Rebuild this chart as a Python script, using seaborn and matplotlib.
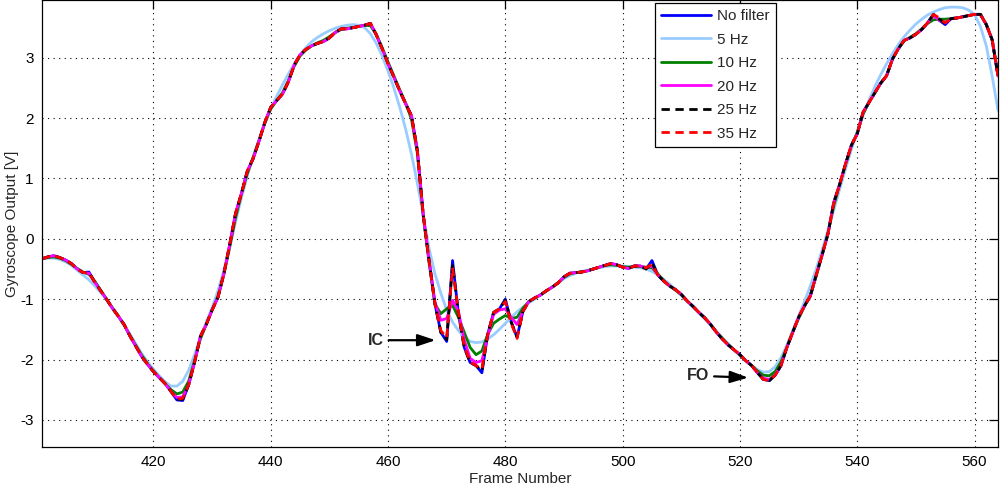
import matplotlib
matplotlib.use('Agg')
import matplotlib.pyplot as plt
import pandas as pd
import seaborn as sns

# frame numbers 401..564
frames = list(range(401, 565))

# valores, um por frame
no_filter = [
    -0.33, -0.30, -0.28, -0.31, -0.35, -0.41, -0.50, -0.56, -0.55, -0.72,
    -0.86, -1.00, -1.15, -1.28, -1.42, -1.61, -1.78, -1.95, -2.08, -2.20,
    -2.30, -2.40, -2.53, -2.67, -2.68, -2.42, -2.05, -1.62, -1.42, -1.18,
    -0.97, -0.58, -0.10, 0.42, 0.75, 1.12, 1.33, 1.62, 1.93, 2.18,
    2.29, 2.40, 2.60, 2.88, 3.05, 3.14, 3.20, 3.24, 3.27, 3.33,
    3.42, 3.48, 3.48, 3.50, 3.52, 3.54, 3.57, 3.38, 3.15, 2.90,
    2.68, 2.45, 2.24, 2.04, 1.46, 0.40, -0.36, -1.08, -1.55, -1.70,
    -0.36, -1.24, -1.80, -2.05, -2.10, -2.22, -1.58, -1.22, -1.16, -1.00,
    -1.38, -1.63, -1.20, -1.04, -0.98, -0.93, -0.86, -0.80, -0.73, -0.63,
    -0.57, -0.56, -0.55, -0.53, -0.50, -0.47, -0.44, -0.41, -0.43, -0.47,
    -0.49, -0.45, -0.45, -0.50, -0.36, -0.60, -0.70, -0.78, -0.84, -0.92,
    -1.03, -1.12, -1.22, -1.31, -1.42, -1.55, -1.66, -1.76, -1.84, -1.92,
    -2.02, -2.10, -2.22, -2.33, -2.35, -2.26, -2.10, -1.80, -1.55, -1.30,
    -1.11, -0.95, -0.60, -0.27, 0.08, 0.60, 0.90, 1.24, 1.55, 1.74,
    2.10, 2.26, 2.42, 2.58, 2.70, 2.98, 3.15, 3.29, 3.33, 3.39,
    3.47, 3.58, 3.72, 3.62, 3.55, 3.65, 3.66, 3.68, 3.70, 3.72,
    3.72, 3.55, 3.30, 2.70,
]

hz5 = [
    -0.33, -0.32, -0.32, -0.34, -0.38, -0.44, -0.52, -0.60, -0.68, -0.78,
    -0.89, -1.01, -1.14, -1.28, -1.42, -1.58, -1.74, -1.90, -2.04, -2.16,
    -2.27, -2.37, -2.44, -2.44, -2.36, -2.18, -1.92, -1.64, -1.38, -1.14,
    -0.86, -0.52, -0.14, 0.28, 0.68, 1.04, 1.36, 1.65, 1.92, 2.16,
    2.36, 2.55, 2.73, 2.90, 3.05, 3.17, 3.27, 3.34, 3.40, 3.45,
    3.49, 3.52, 3.54, 3.55, 3.54, 3.50, 3.40, 3.24, 3.03, 2.78,
    2.50, 2.18, 1.82, 1.40, 0.92, 0.40, -0.16, -0.58, -0.90, -1.18,
    -1.38, -1.52, -1.63, -1.70, -1.72, -1.71, -1.66, -1.59, -1.50, -1.40,
    -1.30, -1.21, -1.13, -1.06, -1.00, -0.93, -0.87, -0.80, -0.73, -0.66,
    -0.61, -0.57, -0.54, -0.52, -0.50, -0.48, -0.46, -0.45, -0.45, -0.45,
    -0.46, -0.47, -0.48, -0.50, -0.54, -0.60, -0.67, -0.75, -0.84, -0.93,
    -1.03, -1.13, -1.23, -1.33, -1.43, -1.54, -1.64, -1.74, -1.84, -1.93,
    -2.02, -2.10, -2.17, -2.21, -2.20, -2.12, -1.97, -1.76, -1.52, -1.28,
    -1.04, -0.78, -0.50, -0.19, 0.14, 0.48, 0.82, 1.16, 1.48, 1.78,
    2.05, 2.30, 2.52, 2.72, 2.90, 3.07, 3.22, 3.35, 3.46, 3.56,
    3.64, 3.71, 3.76, 3.80, 3.83, 3.84, 3.84, 3.83, 3.79, 3.72,
    3.52, 3.20, 2.70, 2.13,
]

hz10 = [
    -0.33, -0.31, -0.30, -0.32, -0.36, -0.42, -0.49, -0.55, -0.59, -0.70,
    -0.85, -1.00, -1.14, -1.28, -1.43, -1.60, -1.77, -1.93, -2.07, -2.19,
    -2.30, -2.40, -2.50, -2.57, -2.54, -2.36, -2.02, -1.66, -1.42, -1.18,
    -0.95, -0.60, -0.14, 0.35, 0.74, 1.08, 1.35, 1.63, 1.92, 2.15,
    2.29, 2.42, 2.62, 2.86, 3.03, 3.13, 3.20, 3.25, 3.29, 3.35,
    3.42, 3.47, 3.49, 3.50, 3.52, 3.54, 3.53, 3.39, 3.17, 2.93,
    2.70, 2.47, 2.25, 1.98, 1.42, 0.38, -0.40, -1.08, -1.24, -1.16,
    -1.10, -1.30, -1.55, -1.80, -1.92, -1.86, -1.58, -1.40, -1.33, -1.27,
    -1.32, -1.30, -1.15, -1.04, -0.98, -0.93, -0.86, -0.80, -0.73, -0.64,
    -0.58, -0.56, -0.55, -0.53, -0.50, -0.47, -0.44, -0.43, -0.44, -0.46,
    -0.47, -0.46, -0.46, -0.47, -0.48, -0.58, -0.69, -0.78, -0.85, -0.93,
    -1.03, -1.12, -1.22, -1.31, -1.42, -1.54, -1.65, -1.75, -1.84, -1.93,
    -2.02, -2.10, -2.19, -2.26, -2.27, -2.20, -2.04, -1.80, -1.54, -1.32,
    -1.12, -0.93, -0.62, -0.27, 0.09, 0.55, 0.90, 1.23, 1.54, 1.76,
    2.07, 2.26, 2.42, 2.58, 2.71, 2.97, 3.15, 3.28, 3.34, 3.40,
    3.48, 3.57, 3.63, 3.64, 3.64, 3.65, 3.66, 3.68, 3.70, 3.72,
    3.72, 3.56, 3.30, 2.72,
]

hz20 = [
    -0.33, -0.30, -0.28, -0.31, -0.35, -0.41, -0.50, -0.56, -0.57, -0.72,
    -0.86, -1.00, -1.15, -1.28, -1.42, -1.61, -1.78, -1.95, -2.08, -2.20,
    -2.30, -2.40, -2.53, -2.63, -2.62, -2.42, -2.05, -1.62, -1.42, -1.18,
    -0.97, -0.58, -0.10, 0.42, 0.75, 1.12, 1.33, 1.62, 1.93, 2.18,
    2.29, 2.40, 2.60, 2.88, 3.05, 3.14, 3.20, 3.24, 3.27, 3.33,
    3.42, 3.48, 3.48, 3.50, 3.52, 3.54, 3.57, 3.38, 3.15, 2.90,
    2.68, 2.45, 2.24, 2.04, 1.46, 0.40, -0.36, -1.05, -1.35, -1.32,
    -1.02, -1.20, -1.68, -1.98, -2.05, -2.02, -1.62, -1.25, -1.18, -1.16,
    -1.30, -1.42, -1.20, -1.04, -0.98, -0.93, -0.86, -0.80, -0.73, -0.63,
    -0.57, -0.56, -0.55, -0.53, -0.50, -0.47, -0.44, -0.41, -0.43, -0.47,
    -0.49, -0.45, -0.45, -0.48, -0.45, -0.60, -0.70, -0.78, -0.84, -0.92,
    -1.03, -1.12, -1.22, -1.31, -1.42, -1.55, -1.66, -1.76, -1.84, -1.92,
    -2.02, -2.10, -2.22, -2.31, -2.33, -2.26, -2.10, -1.80, -1.55, -1.30,
    -1.11, -0.95, -0.60, -0.27, 0.08, 0.60, 0.90, 1.24, 1.55, 1.74,
    2.10, 2.26, 2.42, 2.58, 2.70, 2.98, 3.15, 3.29, 3.33, 3.39,
    3.47, 3.58, 3.70, 3.62, 3.58, 3.65, 3.66, 3.68, 3.70, 3.72,
    3.72, 3.55, 3.30, 2.70,
]

hz25 = [
    -0.33, -0.30, -0.28, -0.31, -0.35, -0.41, -0.50, -0.56, -0.55, -0.72,
    -0.86, -1.00, -1.15, -1.28, -1.42, -1.61, -1.78, -1.95, -2.08, -2.20,
    -2.30, -2.40, -2.53, -2.66, -2.66, -2.42, -2.05, -1.62, -1.42, -1.18,
    -0.97, -0.58, -0.10, 0.42, 0.75, 1.12, 1.33, 1.62, 1.93, 2.18,
    2.29, 2.40, 2.60, 2.88, 3.05, 3.14, 3.20, 3.24, 3.27, 3.33,
    3.42, 3.48, 3.48, 3.50, 3.52, 3.54, 3.57, 3.38, 3.15, 2.90,
    2.68, 2.45, 2.24, 2.04, 1.46, 0.40, -0.36, -1.08, -1.55, -1.67,
    -0.42, -1.24, -1.80, -2.05, -2.10, -2.19, -1.58, -1.22, -1.16, -1.02,
    -1.38, -1.63, -1.20, -1.04, -0.98, -0.93, -0.86, -0.80, -0.73, -0.63,
    -0.57, -0.56, -0.55, -0.53, -0.50, -0.47, -0.44, -0.41, -0.43, -0.47,
    -0.49, -0.45, -0.45, -0.50, -0.40, -0.60, -0.70, -0.78, -0.84, -0.92,
    -1.03, -1.12, -1.22, -1.31, -1.42, -1.55, -1.66, -1.76, -1.84, -1.92,
    -2.02, -2.10, -2.22, -2.33, -2.35, -2.26, -2.10, -1.80, -1.55, -1.30,
    -1.11, -0.95, -0.60, -0.27, 0.08, 0.60, 0.90, 1.24, 1.55, 1.74,
    2.10, 2.26, 2.42, 2.58, 2.70, 2.98, 3.15, 3.29, 3.33, 3.39,
    3.47, 3.58, 3.72, 3.64, 3.57, 3.65, 3.66, 3.68, 3.70, 3.72,
    3.72, 3.55, 3.30, 2.70,
]

hz35 = [
    -0.33, -0.30, -0.28, -0.31, -0.35, -0.41, -0.50, -0.56, -0.56, -0.72,
    -0.86, -1.00, -1.15, -1.28, -1.42, -1.61, -1.78, -1.95, -2.08, -2.20,
    -2.30, -2.40, -2.53, -2.66, -2.64, -2.42, -2.05, -1.62, -1.42, -1.18,
    -0.97, -0.58, -0.10, 0.42, 0.75, 1.12, 1.33, 1.62, 1.93, 2.18,
    2.29, 2.40, 2.60, 2.88, 3.05, 3.14, 3.20, 3.24, 3.27, 3.33,
    3.42, 3.48, 3.48, 3.50, 3.52, 3.54, 3.57, 3.38, 3.15, 2.90,
    2.68, 2.45, 2.24, 2.04, 1.46, 0.40, -0.36, -1.08, -1.52, -1.64,
    -0.48, -1.22, -1.78, -2.04, -2.10, -2.16, -1.58, -1.22, -1.16, -1.04,
    -1.40, -1.65, -1.20, -1.04, -0.98, -0.93, -0.86, -0.80, -0.73, -0.63,
    -0.57, -0.56, -0.55, -0.53, -0.50, -0.47, -0.44, -0.41, -0.43, -0.47,
    -0.49, -0.45, -0.45, -0.48, -0.42, -0.60, -0.70, -0.78, -0.84, -0.92,
    -1.03, -1.12, -1.22, -1.31, -1.42, -1.55, -1.66, -1.76, -1.84, -1.92,
    -2.02, -2.10, -2.22, -2.33, -2.35, -2.26, -2.10, -1.80, -1.55, -1.30,
    -1.11, -0.95, -0.60, -0.27, 0.08, 0.60, 0.90, 1.24, 1.55, 1.74,
    2.10, 2.26, 2.42, 2.58, 2.70, 2.98, 3.15, 3.29, 3.33, 3.39,
    3.47, 3.58, 3.72, 3.66, 3.58, 3.65, 3.66, 3.68, 3.70, 3.72,
    3.72, 3.55, 3.30, 2.70,
]

series_labels = ['No filter', '5 Hz', '10 Hz', '20 Hz', '25 Hz', '35 Hz']
x_ticks = [420, 440, 460, 480, 500, 520, 540, 560]
y_ticks = [-3, -2, -1, 0, 1, 2, 3]

sns.set_theme(style='white')
plt.rcParams['font.family'] = ['Liberation Sans', 'DejaVu Sans']
plt.rcParams['axes.unicode_minus'] = False

df = pd.DataFrame({'frame': frames, 'No filter': no_filter, '5 Hz': hz5,
                   '10 Hz': hz10, '20 Hz': hz20, '25 Hz': hz25, '35 Hz': hz35})

# cores e estilos parecidos com o padrão do MATLAB
styles = {
    'No filter': ('#0000FF', '-'),
    '5 Hz': ('#99CCFF', '-'),
    '10 Hz': ('#008000', '-'),
    '20 Hz': ('#FF00FF', '-'),
    '25 Hz': ('#000000', (0, (3, 2))),
    '35 Hz': ('#FF0000', (0, (3, 2))),
}

fig = plt.figure(figsize=(10, 4.88), dpi=100)
ax = fig.add_axes([0.042, 0.084, 0.956, 0.915])

for name in series_labels:
    color, ls = styles[name]
    sns.lineplot(data=df, x='frame', y=name, ax=ax, color=color, linestyle=ls,
                 linewidth=2.0, label=name, errorbar=None, sort=False)

ax.set_xlim(401, 564)
ax.set_ylim(-3.45, 3.95)
ax.set_xticks(x_ticks)
ax.set_yticks(y_ticks)
ax.grid(True, color='black', linestyle=(0, (1, 4)), linewidth=0.8)
ax.tick_params(direction='in', length=6.5, width=0.9, top=True, right=True,
               labelsize=11, colors='black', pad=6)
for sp in ax.spines.values():
    sp.set_color('black')
    sp.set_linewidth(0.9)

ax.set_xlabel('Frame Number', fontsize=11, labelpad=2)
ax.set_ylabel('Gyroscope Output [V]', fontsize=11, labelpad=1)

# setas de anotação IC / FO
arrow = dict(arrowstyle='-|>,head_length=0.9,head_width=0.3', color='black',
             lw=1.6, mutation_scale=12, shrinkA=1, shrinkB=0)
ax.annotate('IC', xy=(468.1, -1.68), xytext=(459.3, -1.68), ha='right', va='center',
            fontsize=11.5, fontweight='bold', arrowprops=arrow)
ax.annotate('FO', xy=(521.4, -2.30), xytext=(514.8, -2.27), ha='right', va='center',
            fontsize=11.5, fontweight='bold', arrowprops=arrow)

leg = ax.legend(loc='upper left', bbox_to_anchor=(0.641, 0.994), fontsize=11,
                frameon=True, fancybox=False, framealpha=1, edgecolor='black',
                handlelength=3.3, handletextpad=0.4, labelspacing=0.62,
                borderpad=0.4, borderaxespad=0)
leg.get_frame().set_linewidth(0.9)

fig.savefig('out.png', dpi=100)
